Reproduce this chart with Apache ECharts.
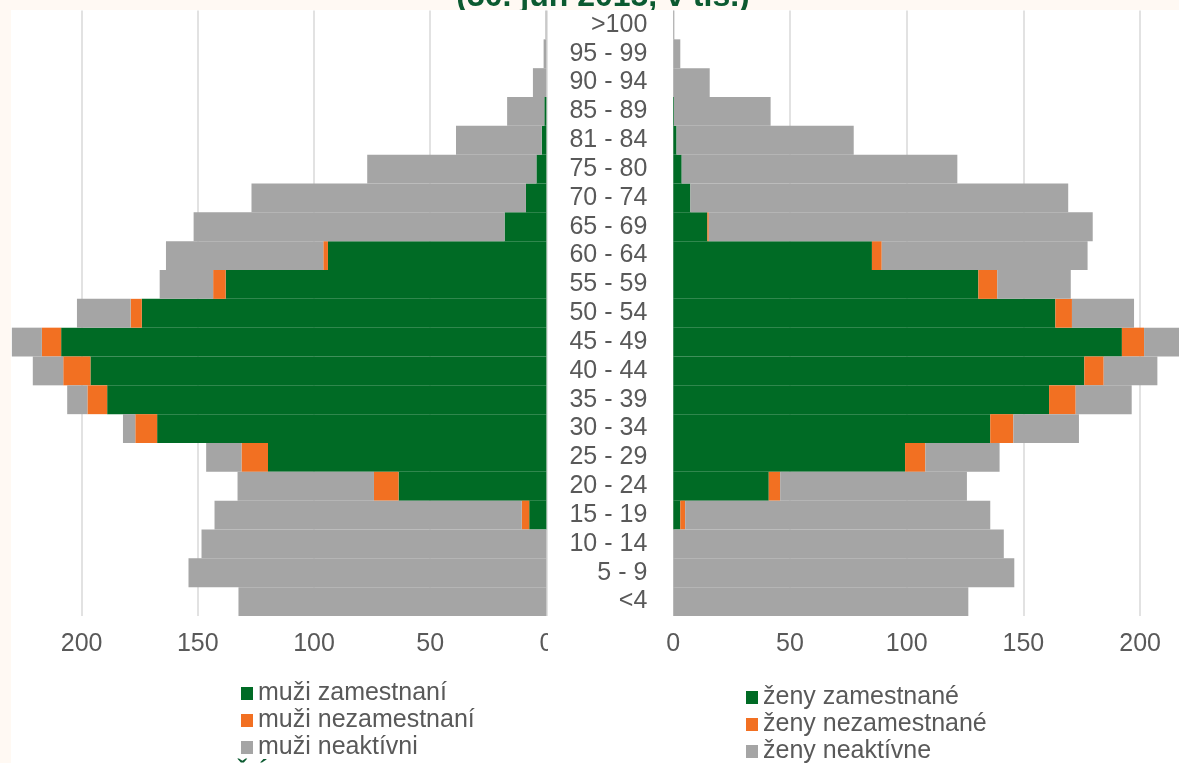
<!DOCTYPE html>
<html><head><meta charset="utf-8">
<script src="https://cdn.jsdelivr.net/npm/echarts@6/dist/echarts.min.js"></script>
<style>html,body{margin:0;padding:0;background:#FFF9F3}#c{width:1179px;height:763px}</style>
</head><body><div id="c"></div>
<script>
// Age groups (bottom to top)
const categories = ['<4','5 - 9','10 - 14','15 - 19','20 - 24','25 - 29','30 - 34','35 - 39','40 - 44','45 - 49','50 - 54','55 - 59','60 - 64','65 - 69','70 - 74','75 - 80','81 - 84','85 - 89','90 - 94','95 - 99','>100'];
// Men
const menEmployed   = [0,0,0,7.4,63.6,119.8,167.5,189,196.2,208.8,174.1,138,94,18,8.8,4.3,2,0.9,0,0,0];
const menUnemployed = [0,0,0,3.2,10.6,11.4,9.4,8.5,11.7,8.3,4.8,5.4,2,0,0,0,0,0,0,0,0];
const menInactive   = [132.5,154.0,148.4,132.2,58.7,15.2,5.3,8.7,13.1,12.9,23.1,23.0,67.7,133.8,118.1,72.8,36.9,16.0,5.8,1.2,0.4];
// Women
const womenEmployed   = [0,0,0,3.0,40.9,99.3,135.8,161,176.1,192.2,163.7,130.7,85.1,14.6,7.3,3.6,1.4,0.3,0,0,0];
const womenUnemployed = [0,0,0,2.1,4.9,8.7,9.9,11.4,8.3,9.5,7.1,8.1,4.2,0.6,0,0,0,0,0,0,0];
const womenInactive   = [126.4,146.1,141.6,130.7,80.0,31.8,28.1,24.0,23.0,20.3,26.6,31.5,88.2,164.5,161.9,118.1,75.9,41.4,15.6,3.0,0.3];
// Axis
const axisMax = 250;
const axisStep = 50;
// Texts
const seriesNames = {
  menEmp: 'muži zamestnaní', menUnemp: 'muži nezamestnaní', menInact: 'muži neaktívni',
  womenEmp: 'ženy zamestnané', womenUnemp: 'ženy nezamestnané', womenInact: 'ženy neaktívne'
};
const titleText = '(30. jún 2015, v tis.)';
const bottomText = 'ŠÚ SR, výsledky VZPS';

const GREEN = '#006B25', ORANGE = '#F27022', GREY = '#A5A5A5', TXT = '#595959';
const FONT = '"Liberation Sans", Arial, sans-serif';

const chart = echarts.init(document.getElementById('c'), null, {renderer: 'canvas'});

function bar(name, data, color, idx, stack) {
  return {
    name, type: 'bar', data, stack, xAxisIndex: idx, yAxisIndex: idx,
    barCategoryGap: 0, itemStyle: {color}, emphasis: {disabled: true}
  };
}

const valueAxis = (idx, inverse) => ({
  type: 'value', gridIndex: idx, inverse, min: 0, max: axisMax, interval: axisStep,
  axisLine: {show: false}, axisTick: {show: false},
  axisLabel: {color: TXT, fontSize: 25, fontFamily: FONT, margin: 16},
  splitLine: {show: true, lineStyle: {color: '#D9D9D9', width: 1.5}}
});

const legendBase = {
  orient: 'vertical', itemWidth: 12, itemHeight: 13, itemGap: 0, icon: 'rect', selectedMode: false,
  padding: 0, height: 120,
  textStyle: {color: TXT, fontSize: 25, fontFamily: FONT, lineHeight: 27}
};

chart.setOption({
  backgroundColor: '#FFF9F3',
  animation: false,
  textStyle: {fontFamily: FONT},
  graphic: [
    {type: 'text', z: -10, style: {text: titleText, x: 603, y: -3, textAlign: 'center', textVerticalAlign: 'middle', font: 'bold 32px "Liberation Sans"', fill: '#0B5A30'}},
    {type: 'rect', z: -5, shape: {x: 11, y: 10, width: 1168, height: 753}, style: {fill: '#FFFFFF'}},
    {type: 'text', z: -4, style: {text: bottomText, x: 232, y: 762, textVerticalAlign: 'top', font: '30px "Liberation Sans"', fill: '#0B5A30'}},
    {type: 'rect', z: 20, shape: {x: 548, y: 628, width: 60, height: 36}, style: {fill: '#FFFFFF'}}
  ],
  grid: [
    {left: -34.6, right: 632.6, top: 10.5, bottom: 147, outerBoundsMode: 'none', containLabel: false},
    {left: 673.3, right: -77.8, top: 10.5, bottom: 147, outerBoundsMode: 'none', containLabel: false}
  ],
  xAxis: [valueAxis(0, true), valueAxis(1, false)],
  yAxis: [
    {type: 'category', gridIndex: 0, data: categories, axisLine: {show: false}, axisTick: {show: false}, axisLabel: {show: false}},
    {type: 'category', gridIndex: 1, data: categories, axisLine: {show: false}, axisTick: {show: false},
     axisLabel: {color: TXT, fontSize: 25, fontFamily: FONT, margin: 26, align: 'right', interval: 0}}
  ],
  legend: [
    Object.assign({}, legendBase, {data: [seriesNames.menEmp, seriesNames.menUnemp, seriesNames.menInact], left: 241, top: 680}),
    Object.assign({}, legendBase, {data: [seriesNames.womenEmp, seriesNames.womenUnemp, seriesNames.womenInact], left: 746, top: 684})
  ],
  series: [
    bar(seriesNames.menEmp, menEmployed, GREEN, 0, 'men'),
    bar(seriesNames.menUnemp, menUnemployed, ORANGE, 0, 'men'),
    bar(seriesNames.menInact, menInactive, GREY, 0, 'men'),
    bar(seriesNames.womenEmp, womenEmployed, GREEN, 1, 'women'),
    bar(seriesNames.womenUnemp, womenUnemployed, ORANGE, 1, 'women'),
    bar(seriesNames.womenInact, womenInactive, GREY, 1, 'women')
  ]
});
</script></body></html>
